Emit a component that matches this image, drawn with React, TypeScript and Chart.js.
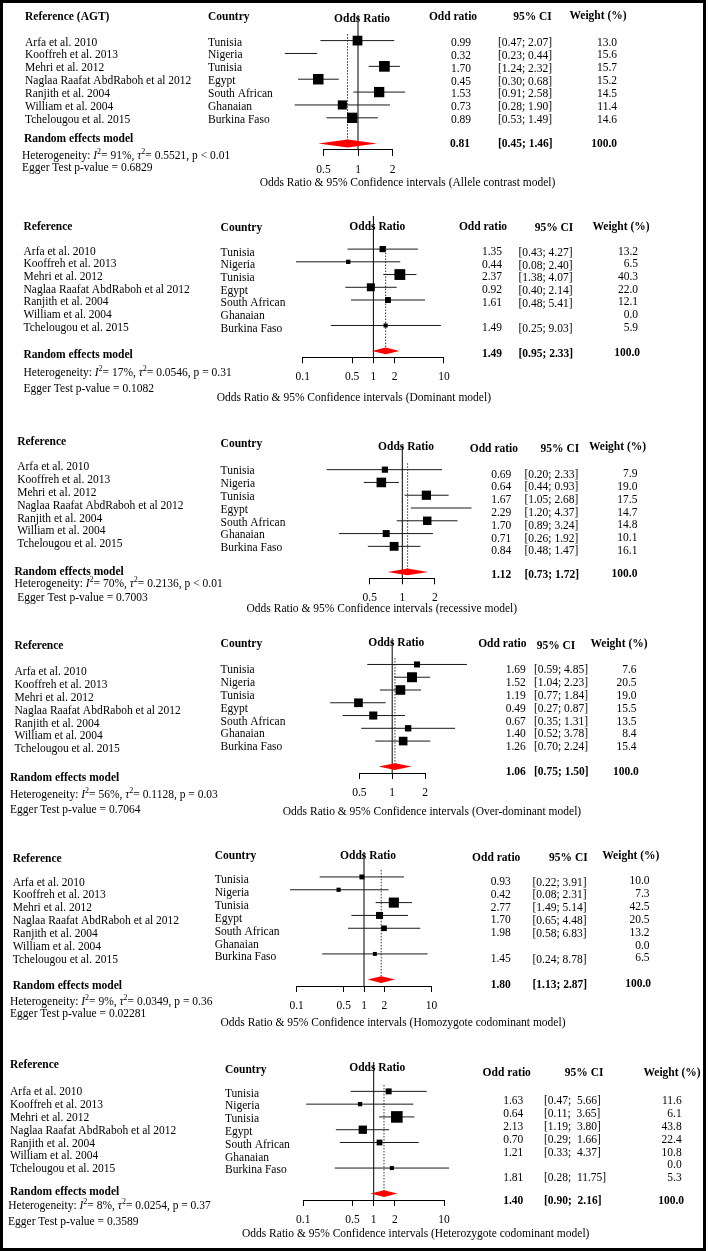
import React, { useEffect, useRef } from "react";
import { Chart, registerables } from "chart.js";
Chart.register(...registerables);

// ---------- DATA ----------
const STUDIES = [
  "Arfa et al. 2010",
  "Kooffreh et al. 2013",
  "Mehri et al. 2012",
  "Naglaa Raafat AbdRaboh et al 2012",
  "Ranjith et al. 2004",
  "William et al. 2004",
  "Tchelougou et al. 2015",
];
const COUNTRIES = ["Tunisia", "Nigeria", "Tunisia", "Egypt", "South African", "Ghanaian", "Burkina Faso"];

const TICKS_NARROW = [0.5, 1, 2];
const TICKS_WIDE = [0.1, 0.5, 1, 2, 10];

// Allele contrast
const ALLELE_OR = [0.99, 0.32, 1.7, 0.45, 1.53, 0.73, 0.89];
const ALLELE_LO = [0.47, 0.23, 1.24, 0.3, 0.91, 0.28, 0.53];
const ALLELE_HI = [2.07, 0.44, 2.32, 0.68, 2.58, 1.9, 1.49];
const ALLELE_W = [13.0, 15.6, 15.7, 15.2, 14.5, 11.4, 14.6];
const ALLELE_POOLED = [0.81, 0.45, 1.46];
const ALLELE_HET = ["91%", "0.5521", "p < 0.01"];
const ALLELE_EGGER = "0.6829";

// Dominant
const DOM_OR = [1.35, 0.44, 2.37, 0.92, 1.61, null, 1.49];
const DOM_LO = [0.43, 0.08, 1.38, 0.4, 0.48, null, 0.25];
const DOM_HI = [4.27, 2.4, 4.07, 2.14, 5.41, null, 9.03];
const DOM_W = [13.2, 6.5, 40.3, 22.0, 12.1, 0.0, 5.9];
const DOM_POOLED = [1.49, 0.95, 2.33];
const DOM_HET = ["17%", "0.0546", "p = 0.31"];
const DOM_EGGER = "0.1082";

// Recessive
const REC_OR = [0.69, 0.64, 1.67, 2.29, 1.7, 0.71, 0.84];
const REC_LO = [0.2, 0.44, 1.05, 1.2, 0.89, 0.26, 0.48];
const REC_HI = [2.33, 0.93, 2.68, 4.37, 3.24, 1.92, 1.47];
const REC_W = [7.9, 19.0, 17.5, 14.7, 14.8, 10.1, 16.1];
const REC_POOLED = [1.12, 0.73, 1.72];
const REC_HET = ["70%", "0.2136", "p < 0.01"];
const REC_EGGER = "0.7003";

// Over-dominant
const OVER_OR = [1.69, 1.52, 1.19, 0.49, 0.67, 1.4, 1.26];
const OVER_LO = [0.59, 1.04, 0.77, 0.27, 0.35, 0.52, 0.7];
const OVER_HI = [4.85, 2.23, 1.84, 0.87, 1.31, 3.78, 2.24];
const OVER_W = [7.6, 20.5, 19.0, 15.5, 13.5, 8.4, 15.4];
const OVER_POOLED = [1.06, 0.75, 1.5];
const OVER_HET = ["56%", "0.1128", "p = 0.03"];
const OVER_EGGER = "0.7064";

// Homozygote codominant
const HOMO_OR = [0.93, 0.42, 2.77, 1.7, 1.98, null, 1.45];
const HOMO_LO = [0.22, 0.08, 1.49, 0.65, 0.58, null, 0.24];
const HOMO_HI = [3.91, 2.31, 5.14, 4.48, 6.83, null, 8.78];
const HOMO_W = [10.0, 7.3, 42.5, 20.5, 13.2, 0.0, 6.5];
const HOMO_POOLED = [1.8, 1.13, 2.87];
const HOMO_HET = ["9%", "0.0349", "p = 0.36"];
const HOMO_EGGER = "0.02281";

// Heterozygote codominant
const HETZ_OR = [1.63, 0.64, 2.13, 0.7, 1.21, null, 1.81];
const HETZ_LO = [0.47, 0.11, 1.19, 0.29, 0.33, null, 0.28];
const HETZ_HI = [5.66, 3.65, 3.8, 1.66, 4.37, null, 11.75];
const HETZ_W = [11.6, 6.1, 43.8, 22.4, 10.8, 0.0, 5.3];
const HETZ_POOLED = [1.4, 0.9, 2.16];
const HETZ_HET = ["8%", "0.0254", "p = 0.37"];
const HETZ_EGGER = "0.3589";

// ---------- LAYOUT ----------
type XY = [number, number];
type Layout = {
  axisY: number; step: number; x1: number; ppd: number;
  lineTop: number; dotTop: number; boxK: number; dH: number; ciSep: string;
  head: { ref: XY; country: XY; odds: XY; or: XY; ci: XY; w: XY };
  col: { study: XY; country: XY; or: XY; ci: XY; w: XY };
  pool: { label: XY; or: XY; ci: XY; w: XY };
  het: XY; egg: XY; xlab: XY;
};

type Panel = {
  refHeader: string; model: string; ticks: number[];
  or: (number | null)[]; lo: (number | null)[]; hi: (number | null)[]; w: number[];
  pooled: number[]; het: string[]; egger: string; L: Layout;
};

const PANELS: Panel[] = [
  {
    refHeader: "Reference (AGT)", model: "Allele contrast model", ticks: TICKS_NARROW,
    or: ALLELE_OR, lo: ALLELE_LO, hi: ALLELE_HI, w: ALLELE_W, pooled: ALLELE_POOLED, het: ALLELE_HET, egger: ALLELE_EGGER,
    L: {
      axisY: 150, step: 12.87, x1: 358, ppd: 34.5, lineTop: -2.0, dotTop: -0.5, boxK: 2.7, dH: 4, ciSep: "; ",
      head: { ref: [25, 17], country: [208, 17], odds: [362, 19], or: [453, 17], ci: [532.5, 17], w: [598, 16] },
      col: { study: [25, 2], country: [208, 2], or: [471, 2.3], ci: [498, 2.3], w: [617, 2] },
      pool: { label: [24, 139], or: [470, 144], ci: [498, 144], w: [617, 144] },
      het: [22, 156], egg: [22, 168], xlab: [407.5, 183],
    },
  },
  {
    refHeader: "Reference", model: "Dominant model", ticks: TICKS_WIDE,
    or: DOM_OR, lo: DOM_LO, hi: DOM_HI, w: DOM_W, pooled: DOM_POOLED, het: DOM_HET, egger: DOM_EGGER,
    L: {
      axisY: 357.3, step: 12.73, x1: 373.4, ppd: 21.25, lineTop: -2.6, dotTop: -0.2, boxK: 1.7, dH: 3.4, ciSep: "; ",
      head: { ref: [23.5, 226.7], country: [220.6, 227.7], odds: [377.3, 227.3], or: [483, 227.3], ci: [554, 228.3], w: [621, 227] },
      col: { study: [23.5, 2.4], country: [220.6, 3.4], or: [502, 2.7], ci: [518.5, 3.7], w: [638, 2.4] },
      pool: { label: [23.5, 354.7], or: [502, 353.7], ci: [518.5, 353.7], w: [640, 353] },
      het: [23.5, 372.7], egg: [23.5, 389.3], xlab: [353.8, 398.3],
    },
  },
  {
    refHeader: "Reference", model: "recessive model", ticks: TICKS_NARROW,
    or: REC_OR, lo: REC_LO, hi: REC_HI, w: REC_W, pooled: REC_POOLED, het: REC_HET, egger: REC_EGGER,
    L: {
      axisY: 578.3, step: 12.78, x1: 402.3, ppd: 32.55, lineTop: -1.9, dotTop: -0.5, boxK: 2.2, dH: 3.4, ciSep: "; ",
      head: { ref: [17.2, 441.7], country: [220.6, 444.3], odds: [406, 447.3], or: [493.9, 449], ci: [559.9, 449], w: [617.5, 447.3] },
      col: { study: [17.2, -2.3], country: [220.6, 1.7], or: [511.3, 5], ci: [524.4, 5], w: [637.4, 4.5] },
      pool: { label: [14.5, 571.7], or: [511.3, 574.7], ci: [524.4, 574.7], w: [637.4, 573.7] },
      het: [14.5, 584.3], egg: [17.2, 598.3], xlab: [381.8, 608.7],
    },
  },
  {
    refHeader: "Reference", model: "Over-dominant model", ticks: TICKS_NARROW,
    or: OVER_OR, lo: OVER_LO, hi: OVER_HI, w: OVER_W, pooled: OVER_POOLED, het: OVER_HET, egger: OVER_EGGER,
    L: {
      axisY: 773, step: 12.77, x1: 392.2, ppd: 32.8, lineTop: -2.05, dotTop: -0.5, boxK: 2.2, dH: 3.4, ciSep: "; ",
      head: { ref: [14.5, 646], country: [220.6, 644.3], odds: [396.2, 642.7], or: [502.3, 644.3], ci: [556, 645.7], w: [619, 644] },
      col: { study: [14.5, 8], country: [220.6, 6], or: [525.8, 6], ci: [534, 6], w: [636.5, 6] },
      pool: { label: [10, 777.7], or: [525.8, 772], ci: [534, 772], w: [638.8, 772] },
      het: [10, 795.3], egg: [10, 810.3], xlab: [432, 811.7],
    },
  },
  {
    refHeader: "Reference", model: "Homozygote codominant model", ticks: TICKS_WIDE,
    or: HOMO_OR, lo: HOMO_LO, hi: HOMO_HI, w: HOMO_W, pooled: HOMO_POOLED, het: HOMO_HET, egger: HOMO_EGGER,
    L: {
      axisY: 986, step: 12.83, x1: 364, ppd: 20.3, lineTop: -1.95, dotTop: -0.55, boxK: 1.55, dH: 3.4, ciSep: "; ",
      head: { ref: [12.7, 858.7], country: [214.7, 856], odds: [368, 856], or: [496.2, 858], ci: [568.4, 858], w: [630.8, 856] },
      col: { study: [12.7, 5.7], country: [214.7, 3.4], or: [510.8, 5], ci: [532.5, 5.7], w: [649.6, 4.4] },
      pool: { label: [12.7, 985.7], or: [510.8, 985.3], ci: [532.5, 985.3], w: [651, 984] },
      het: [10, 1002.3], egg: [10, 1014.3], xlab: [393, 1022.7],
    },
  },
  {
    refHeader: "Reference", model: "Heterozygote codominant model", ticks: TICKS_WIDE,
    or: HETZ_OR, lo: HETZ_LO, hi: HETZ_HI, w: HETZ_W, pooled: HETZ_POOLED, het: HETZ_HET, egger: HETZ_EGGER,
    L: {
      axisY: 1200, step: 12.78, x1: 373.7, ppd: 21.2, lineTop: -2.3, dotTop: -0.5, boxK: 1.75, dH: 3.4, ciSep: ";  ",
      head: { ref: [10, 1065], country: [225, 1070], odds: [377.2, 1068], or: [506.7, 1073], ci: [584.2, 1073], w: [672, 1073] },
      col: { study: [10, 1], country: [225, 2.3], or: [523.3, 10], ci: [544, 10], w: [681.7, 10] },
      pool: { label: [10, 1192.3], or: [523.3, 1201], ci: [544, 1201], w: [684, 1201] },
      het: [8.3, 1205.7], egg: [8, 1222.3], xlab: [415.7, 1234.3],
    },
  },
];

const W_PX = 709;
const H_PX = 1251;
const FAMILY = "'Liberation Serif', 'Times New Roman', serif";
const FS = 11.5;

function setFont(ctx: CanvasRenderingContext2D, bold = false, italic = false, size = FS) {
  ctx.font = `${italic ? "italic " : ""}${bold ? "bold " : ""}${size}px ${FAMILY}`;
}
function txt(ctx: CanvasRenderingContext2D, s: string, x: number, y: number, align: CanvasTextAlign = "left", bold = false) {
  setFont(ctx, bold);
  ctx.textAlign = align;
  ctx.textBaseline = "middle";
  ctx.fillStyle = "#000";
  ctx.fillText(s, x, y);
}
function rich(ctx: CanvasRenderingContext2D, x: number, y: number, parts: [string, string][]) {
  let cx = x;
  ctx.textAlign = "left";
  ctx.textBaseline = "middle";
  ctx.fillStyle = "#000";
  for (const [s, k] of parts) {
    if (k === "s") {
      setFont(ctx, false, false, 8);
      ctx.fillText(s, cx, y - 4);
    } else {
      setFont(ctx, false, k === "i");
      ctx.fillText(s, cx, y);
    }
    cx += ctx.measureText(s).width;
  }
}
const f2 = (v: number) => v.toFixed(2);

function forestPlugin(p: Panel) {
  const L = p.L;
  return {
    id: "forest",
    beforeDatasetsDraw(chart: any) {
      const { ctx } = chart;
      const xs = chart.scales.x, ys = chart.scales.y;
      ctx.save();
      const x1 = xs.getPixelForValue(1);
      ctx.strokeStyle = "#000";
      ctx.lineWidth = 1;
      ctx.beginPath();
      ctx.moveTo(x1, ys.getPixelForValue(L.lineTop));
      ctx.lineTo(x1, ys.getPixelForValue(8.5));
      ctx.stroke();
      const xp = xs.getPixelForValue(p.pooled[0]);
      ctx.setLineDash([1.5, 1.5]);
      ctx.strokeStyle = "#333";
      ctx.beginPath();
      ctx.moveTo(xp, ys.getPixelForValue(L.dotTop));
      ctx.lineTo(xp, ys.getPixelForValue(8));
      ctx.stroke();
      ctx.restore();
    },
    afterDatasetsDraw(chart: any) {
      const { ctx } = chart;
      const xs = chart.scales.x, ys = chart.scales.y;
      const yc = ys.getPixelForValue(8);
      const xl = xs.getPixelForValue(p.pooled[1]);
      const xm = xs.getPixelForValue(p.pooled[0]);
      const xr = xs.getPixelForValue(p.pooled[2]);
      ctx.save();
      ctx.fillStyle = "#ff0000";
      ctx.beginPath();
      ctx.moveTo(xl, yc);
      ctx.lineTo(xm, yc - L.dH);
      ctx.lineTo(xr, yc);
      ctx.lineTo(xm, yc + L.dH);
      ctx.closePath();
      ctx.fill();
      ctx.restore();
    },
    afterDraw(chart: any) {
      const { ctx } = chart;
      const ys = chart.scales.y;
      ctx.save();
      const h = L.head;
      txt(ctx, p.refHeader, h.ref[0], h.ref[1], "left", true);
      txt(ctx, "Country", h.country[0], h.country[1], "left", true);
      txt(ctx, "Odds Ratio", h.odds[0], h.odds[1], "center", true);
      txt(ctx, "Odd ratio", h.or[0], h.or[1], "center", true);
      txt(ctx, "95% CI", h.ci[0], h.ci[1], "center", true);
      txt(ctx, "Weight (%)", h.w[0], h.w[1], "center", true);
      const c = L.col;
      for (let i = 0; i < STUDIES.length; i++) {
        const yr = ys.getPixelForValue(i);
        txt(ctx, STUDIES[i], c.study[0], yr + c.study[1]);
        txt(ctx, COUNTRIES[i], c.country[0], yr + c.country[1]);
        const o = p.or[i], lo = p.lo[i], hi = p.hi[i];
        if (o != null && lo != null && hi != null) {
          txt(ctx, f2(o), c.or[0], yr + c.or[1], "right");
          txt(ctx, `[${f2(lo)}${L.ciSep}${f2(hi)}]`, c.ci[0], yr + c.ci[1], "left");
        }
        txt(ctx, p.w[i].toFixed(1), c.w[0], yr + c.w[1], "right");
      }
      const q = L.pool;
      txt(ctx, "Random effects model", q.label[0], q.label[1], "left", true);
      txt(ctx, f2(p.pooled[0]), q.or[0], q.or[1], "right", true);
      txt(ctx, `[${f2(p.pooled[1])}${L.ciSep}${f2(p.pooled[2])}]`, q.ci[0], q.ci[1], "left", true);
      txt(ctx, "100.0", q.w[0], q.w[1], "right", true);
      rich(ctx, L.het[0], L.het[1], [
        ["Heterogeneity: ", "n"], ["I", "i"], ["2", "s"], [`= ${p.het[0]}, `, "n"],
        ["τ", "i"], ["2", "s"], [`= ${p.het[1]}, ${p.het[2]}`, "n"],
      ]);
      txt(ctx, `Egger Test p-value = ${p.egger}`, L.egg[0], L.egg[1]);
      txt(ctx, `Odds Ratio & 95% Confidence intervals (${p.model})`, L.xlab[0], L.xlab[1], "center");
      ctx.restore();
    },
  };
}

function makeChart(canvas: HTMLCanvasElement, p: Panel) {
  const L = p.L;
  const ticks = p.ticks;
  const tMin = ticks[0], tMax = ticks[ticks.length - 1];
  const xLeft = L.x1 + L.ppd * Math.log2(tMin);
  const xRight = L.x1 + L.ppd * Math.log2(tMax);
  const squares: { x: number; y: number }[] = [];
  const radii: number[] = [];
  const ci: { x: number; y: number | null }[] = [];
  p.or.forEach((v, i) => {
    const lo = p.lo[i], hi = p.hi[i];
    if (v == null || lo == null || hi == null) return;
    squares.push({ x: v, y: i });
    radii.push((L.boxK * Math.sqrt(p.w[i])) / Math.SQRT2);
    ci.push({ x: lo, y: i }, { x: hi, y: i }, { x: hi, y: null });
  });
  return new Chart(canvas, {
    type: "scatter",
    data: {
      datasets: [
        {
          data: squares as any,
          pointStyle: "rect",
          pointRadius: radii,
          pointBackgroundColor: "#000",
          backgroundColor: "#000",
          borderColor: "#000",
          pointBorderWidth: 0,
          clip: false as any,
          order: 0,
        },
        {
          data: ci as any,
          showLine: true,
          pointRadius: 0,
          borderColor: "#1a1a1a",
          borderWidth: 1,
          spanGaps: false,
          clip: false as any,
          order: 1,
        },
      ],
    },
    options: {
      animation: false,
      responsive: false,
      events: [],
      layout: {
        padding: {
          left: xLeft,
          right: W_PX - xRight,
          top: L.axisY - 11 * L.step,
          bottom: H_PX - L.axisY - 30,
        },
      },
      plugins: { legend: { display: false }, tooltip: { enabled: false } },
      scales: {
        x: {
          type: "logarithmic",
          min: tMin,
          max: tMax,
          afterBuildTicks: (s: any) => {
            s.ticks = ticks.map((v) => ({ value: v }));
          },
          afterFit: (s: any) => {
            s.height = 30;
          },
          grid: { drawOnChartArea: false, drawTicks: true, tickLength: 6, color: "#000", lineWidth: 1 },
          border: { display: true, color: "#000", width: 1 },
          ticks: {
            color: "#000",
            font: { family: FAMILY, size: FS },
            padding: 7,
            autoSkip: false,
            maxRotation: 0,
            callback: (v: any) => String(v),
          },
        },
        y: { type: "linear", display: false, min: -2.5, max: 8.5, reverse: true },
      },
    } as any,
    plugins: [forestPlugin(p) as any],
  });
}

export default function App() {
  const refs = useRef<(HTMLCanvasElement | null)[]>([]);
  useEffect(() => {
    document.body.style.margin = "0";
    document.documentElement.style.overflow = "hidden";
    const charts = PANELS.map((p, i) => makeChart(refs.current[i] as HTMLCanvasElement, p));
    return () => charts.forEach((c) => c.destroy());
  }, []);
  return (
    <div style={{ position: "absolute", left: 0, top: 0, width: W_PX, height: H_PX, background: "#fff", overflow: "hidden" }}>
      {PANELS.map((_, i) => (
        <canvas
          key={i}
          ref={(el) => {
            refs.current[i] = el;
          }}
          width={W_PX}
          height={H_PX}
          style={{ position: "absolute", left: 0, top: 0, width: W_PX, height: H_PX }}
        />
      ))}
      <div
        style={{
          position: "absolute", left: 0, top: 0, width: 706, height: H_PX,
          border: "3px solid #000", boxSizing: "border-box", pointerEvents: "none",
        }}
      />
    </div>
  );
}
